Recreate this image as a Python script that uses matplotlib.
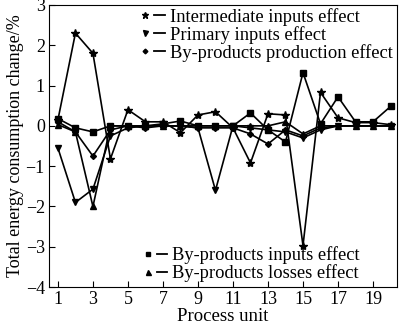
import matplotlib.pyplot as plt
import numpy as np
from matplotlib.lines import Line2D

plt.rcParams['font.family'] = ['Liberation Serif', 'DejaVu Serif']

# process units 1..20
unidades = np.arange(1, 21)

# valores (%)
intermedio = [0.15, 2.3, 1.8, -0.82, 0.4, 0.1, 0.1, -0.17, 0.27, 0.35,
              -0.05, -0.92, 0.3, 0.27, -2.97, 0.83, 0.2, 0.08, 0.08, 0.03]
primario = [-0.55, -1.9, -1.57, -0.25, -0.05, 0.0, 0.0, 0.0, -0.05, -1.6,
            0.0, -0.05, -0.1, -0.15, -0.3, -0.1, 0.0, 0.0, 0.0, 0.0]
produccion = [0.1, -0.15, -0.75, -0.1, 0.0, -0.05, 0.0, 0.0, -0.05, -0.05,
              -0.05, -0.2, -0.45, -0.1, -0.25, -0.05, 0.0, 0.0, 0.0, 0.0]
entradas = [0.18, -0.05, -0.15, 0.0, 0.0, 0.0, 0.05, 0.12, 0.0, 0.0,
            0.0, 0.32, -0.1, -0.4, 1.32, 0.05, 0.72, 0.1, 0.1, 0.48]
perdidas = [0.03, -0.15, -2.0, 0.0, 0.0, 0.0, 0.0, 0.0, 0.0, 0.0,
            0.0, 0.0, 0.0, 0.1, -0.2, 0.0, 0.0, 0.0, 0.0, 0.0]

series = [
    (intermedio, '*', 'Intermediate inputs effect'),
    (primario, 'v', 'Primary inputs effect'),
    (produccion, 'D', 'By-products production effect'),
    (entradas, 's', 'By-products inputs effect'),
    (perdidas, '^', 'By-products losses effect'),
]
tamanos = {'*': 6, 'v': 4.5, 'D': 3, 's': 4, '^': 4.5}


# manejador de leyenda: marcador a la izquierda y guion corto a la derecha
class MarcaGuion:
    def legend_artist(self, legend, orig_handle, fontsize, handlebox):
        x0, y0 = -handlebox.xdescent, -handlebox.ydescent
        w, h = handlebox.width, handlebox.height
        yc = y0 + h / 2
        m = Line2D([x0 + 0.18 * w], [yc], color='black', ls='none',
                   marker=orig_handle.get_marker(),
                   markersize=orig_handle.get_markersize())
        l = Line2D([x0 + 0.55 * w, x0 + w], [yc, yc], color='black', lw=1.3)
        handlebox.add_artist(m)
        handlebox.add_artist(l)
        return m


fig = plt.figure(figsize=(4.0, 3.27), dpi=100)
ax = fig.add_axes([0.1225, 0.122, 0.87, 0.863])

for valores, marca, nombre in series:
    ax.plot(unidades, valores, color='black', lw=1.2, marker=marca,
            markersize=tamanos[marca])

ax.set_xlim(0.49, 20.37)
ax.set_ylim(-4, 3)
ax.set_xticks(np.arange(1, 20, 2))
ax.set_yticks(np.arange(-4, 4, 1))
ax.set_yticklabels([str(v).replace('-', '\u2212') for v in range(-4, 4)])
ax.tick_params(direction='in', labelsize=13, length=4, pad=3)
ax.set_xlabel('Process unit', fontsize=13.5, labelpad=0)
ax.set_ylabel('Total energy consumption change/%', fontsize=13, labelpad=1)

asas = [Line2D([], [], color='black', marker=m, ls='none',
               markersize=tamanos[m] * 0.8) for _, m, _ in series]
mapa = {h: MarcaGuion() for h in asas}

l1 = ax.legend(asas[:3], [n for _, _, n in series[:3]],
               loc='upper left', bbox_to_anchor=(0.243, 1.015), frameon=False,
               fontsize=13.3, handlelength=1.3, handletextpad=0.25,
               labelspacing=0.0, borderaxespad=0, handler_map=mapa)
ax.add_artist(l1)
ax.legend(asas[3:], [n for _, _, n in series[3:]],
          loc='lower left', bbox_to_anchor=(0.25, -0.008), frameon=False,
          fontsize=13.3, handlelength=1.3, handletextpad=0.25,
          labelspacing=0.0, borderaxespad=0, handler_map=mapa)

fig.savefig('out.png', dpi=100)
